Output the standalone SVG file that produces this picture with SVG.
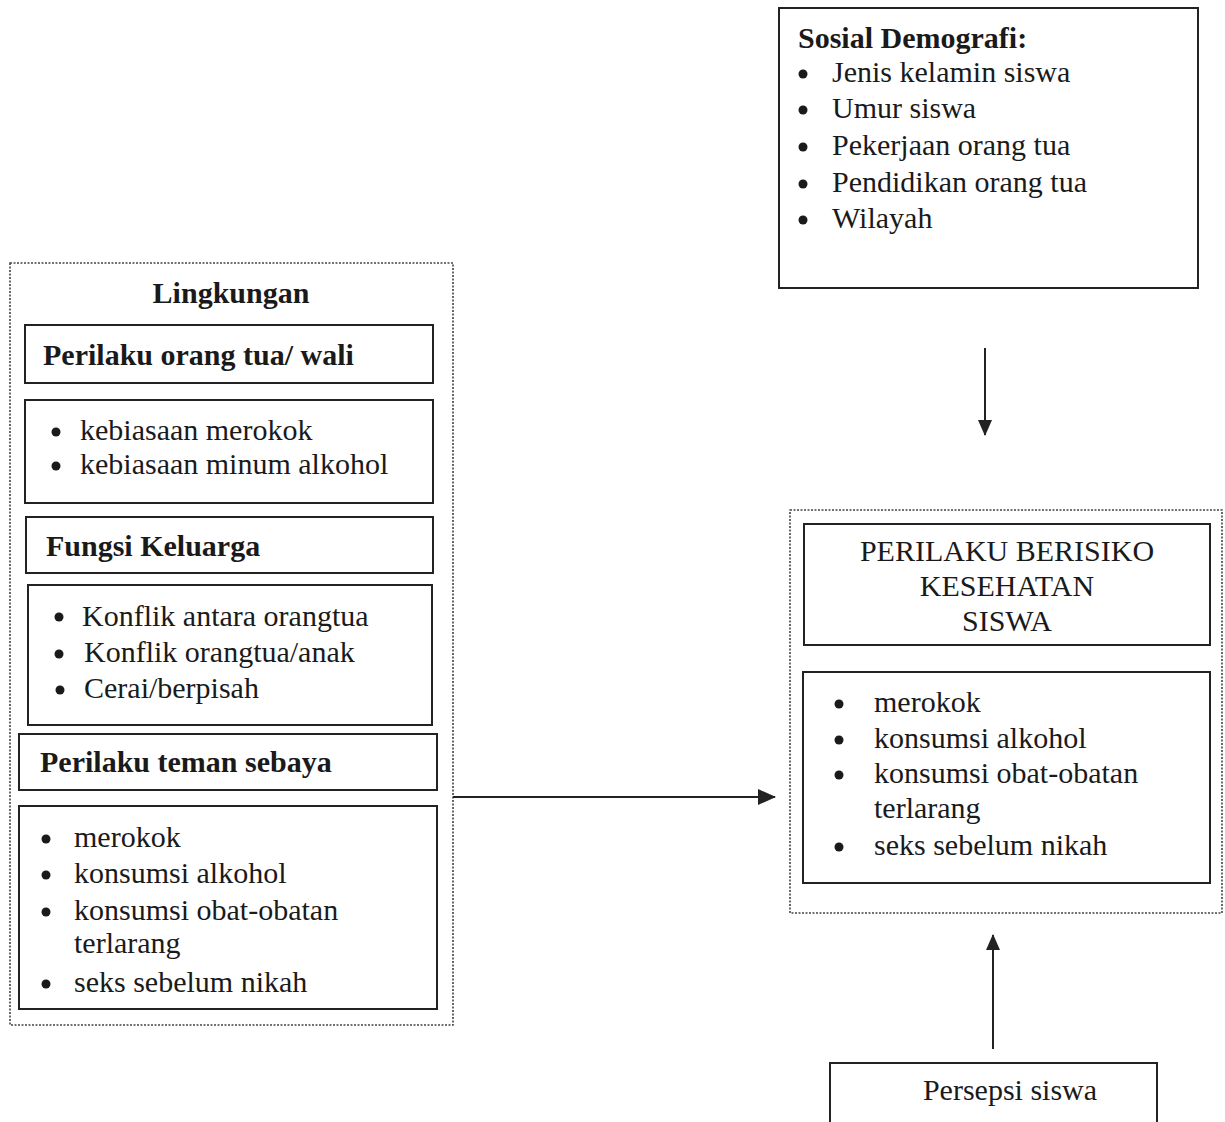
<svg xmlns="http://www.w3.org/2000/svg" width="1225" height="1122" viewBox="0 0 1225 1122">
<style>
text{font-family:"Liberation Serif","Times New Roman",serif;font-size:30px;fill:#1a1a1a}
.b{font-weight:bold}
.box{fill:none;stroke:#222;stroke-width:2}
.outer{fill:none;stroke:#444;stroke-width:1.6;stroke-dasharray:2 1.5}
.dot{fill:#1a1a1a}
.c{text-anchor:middle}
.conn{stroke:#222;stroke-width:2;fill:none}
</style>
<defs>
<marker id="ah" markerWidth="16" markerHeight="14" refX="15" refY="7" orient="auto" markerUnits="userSpaceOnUse" viewBox="0 0 16 14">
<path d="M0,0 L16,7 L0,14 z" fill="#222"/>
</marker>
<marker id="ah2" markerWidth="18" markerHeight="16" refX="17" refY="8" orient="auto" markerUnits="userSpaceOnUse" viewBox="0 0 18 16">
<path d="M0,0 L18,8 L0,16 z" fill="#222"/>
</marker>
</defs>

<g id="lingkungan">
<rect class="outer" x="10" y="263" width="443" height="762"/>
<text class="b c" x="231" y="303">Lingkungan</text>
</g>

<g id="perilaku-ortu">
<rect class="box" x="25" y="325" width="408" height="58"/>
<text class="b" x="43" y="365">Perilaku orang tua/ wali</text>
</g>

<g id="perilaku-ortu-list">
<rect class="box" x="25" y="400" width="408" height="103"/>
<circle class="dot" cx="56" cy="432" r="4.5"/>
<text x="80" y="440">kebiasaan merokok</text>
<circle class="dot" cx="56" cy="466" r="4.5"/>
<text x="80" y="474">kebiasaan minum alkohol</text>
</g>

<g id="fungsi-keluarga">
<rect class="box" x="26" y="517" width="407" height="56"/>
<text class="b" x="46" y="556">Fungsi Keluarga</text>
</g>

<g id="fungsi-keluarga-list">
<rect class="box" x="28" y="585" width="404" height="140"/>
<circle class="dot" cx="59" cy="617" r="4.5"/>
<text x="82" y="626">Konflik antara orangtua</text>
<circle class="dot" cx="59" cy="654" r="4.5"/>
<text x="84" y="662">Konflik orangtua/anak</text>
<circle class="dot" cx="60" cy="690" r="4.5"/>
<text x="84" y="698">Cerai/berpisah</text>
</g>

<g id="teman-sebaya">
<rect class="box" x="19" y="734" width="418" height="56"/>
<text class="b" x="40" y="772">Perilaku teman sebaya</text>
</g>

<g id="teman-sebaya-list">
<rect class="box" x="19" y="806" width="418" height="203"/>
<circle class="dot" cx="46" cy="839" r="4.5"/>
<text x="74" y="847">merokok</text>
<circle class="dot" cx="46" cy="875" r="4.5"/>
<text x="74" y="883">konsumsi alkohol</text>
<circle class="dot" cx="46" cy="912" r="4.5"/>
<text x="74" y="920">konsumsi obat-obatan</text>
<text x="74" y="953">terlarang</text>
<circle class="dot" cx="46" cy="984" r="4.5"/>
<text x="74" y="992">seks sebelum nikah</text>
</g>

<g id="sosial-demografi">
<rect class="box" x="779" y="8" width="419" height="280"/>
<text class="b" x="798" y="48">Sosial Demografi:</text>
<circle class="dot" cx="803" cy="74" r="4.5"/>
<text x="832" y="82">Jenis kelamin siswa</text>
<circle class="dot" cx="803" cy="110" r="4.5"/>
<text x="832" y="118">Umur siswa</text>
<circle class="dot" cx="803" cy="147" r="4.5"/>
<text x="832" y="155">Pekerjaan orang tua</text>
<circle class="dot" cx="803" cy="184" r="4.5"/>
<text x="832" y="192">Pendidikan orang tua</text>
<circle class="dot" cx="803" cy="220" r="4.5"/>
<text x="832" y="228">Wilayah</text>
</g>

<g id="perilaku-berisiko">
<rect class="outer" x="790" y="510" width="432" height="403"/>
<rect class="box" x="804" y="524" width="406" height="121"/>
<text class="c" x="1007" y="561">PERILAKU BERISIKO</text>
<text class="c" x="1007" y="596">KESEHATAN</text>
<text class="c" x="1007" y="631">SISWA</text>
<rect class="box" x="803" y="672" width="407" height="211"/>
<circle class="dot" cx="839" cy="704" r="4.5"/>
<text x="874" y="712">merokok</text>
<circle class="dot" cx="839" cy="740" r="4.5"/>
<text x="874" y="748">konsumsi alkohol</text>
<circle class="dot" cx="839" cy="775" r="4.5"/>
<text x="874" y="783">konsumsi obat-obatan</text>
<text x="874" y="818">terlarang</text>
<circle class="dot" cx="839" cy="847" r="4.5"/>
<text x="874" y="855">seks sebelum nikah</text>
</g>

<g id="persepsi-siswa">
<path class="box" d="M830,1122 V1063 H1157 V1122"/>
<text class="c" x="1010" y="1100">Persepsi siswa</text>
</g>

<g id="connectors">
<line class="conn" x1="985" y1="348" x2="985" y2="435" marker-end="url(#ah)"/>
<line class="conn" x1="453" y1="797" x2="775" y2="797" marker-end="url(#ah2)"/>
<line class="conn" x1="993" y1="1049" x2="993" y2="935" marker-end="url(#ah)"/>
</g>
</svg>
